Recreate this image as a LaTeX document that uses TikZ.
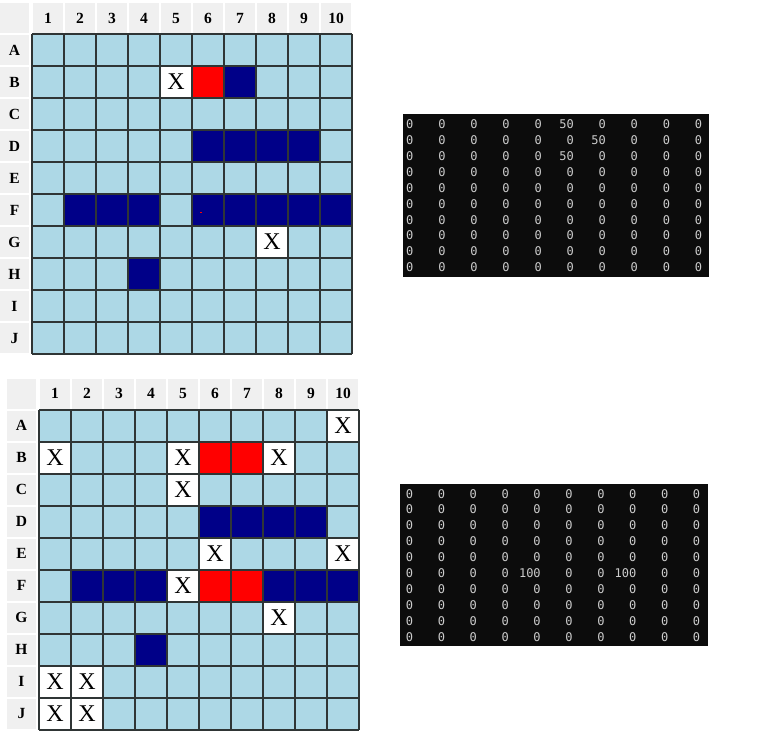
\documentclass[tikz,border=0pt]{standalone}
\usepackage{fontspec}
\setmainfont{Liberation Serif}
\newfontfamily\consfont{DejaVu Sans Mono}
\definecolor{cellblue}{HTML}{ADD8E6}
\definecolor{shipnavy}{HTML}{000088}
\definecolor{hitred}{HTML}{FF0000}
\definecolor{gridline}{HTML}{2F3535}
\definecolor{headgray}{HTML}{F0F0F0}
\definecolor{termbg}{HTML}{0C0C0C}
\definecolor{termtext}{HTML}{CCCCCC}
\newcommand\mycell[3]{\fill[#3] ({32*(#1-1)},{32*(#2-1)}) rectangle ({32*#1},{32*#2});}
\newcommand\myxcell[3]{\fill[white] ({32*(#1-1)},{32*(#2-1)}) rectangle ({32*#1},{32*#2});
  \node[xmark] (#3) at ({32*#1-16},{32*#2-16}) {X};}
\newcommand\myheaders[1]{%
  \fill[headgray] (-32,-31) rectangle (-3,-1);
  \foreach \k in {1,...,10} {
    \fill[headgray] ({32*(\k-1)+0.5},-31) rectangle ({32*(\k-1)+30.5},-1);
    \node[headtext] (#1-col-\k) at ({32*\k-16},-16) {\k};
  }
  \foreach \l [count=\i] in {A,B,C,D,E,F,G,H,I,J} {
    \fill[headgray] (-32,{32*(\i-1)+1}) rectangle (-3,{32*(\i-1)+31});
    \node[headtext] (#1-row-\l) at (-17.5,{32*\i-16}) {\l};
  }}
\newcommand\mylines{%
  \foreach \k in {0,...,10} {
    \draw[gridline,line width=2] ({32*\k},0) -- ({32*\k},320);
    \draw[gridline,line width=2] (0,{32*\k}) -- (320,{32*\k});
  }}
\begin{document}
\begin{tikzpicture}[x=1pt,y=-1pt,
  headtext/.style={font=\fontsize{15.5}{15.5}\selectfont\bfseries, inner sep=0pt},
  xmark/.style={font=\fontsize{24}{24}\selectfont, inner sep=0pt},
  termnum/.style={font=\consfont\fontsize{12}{12}\selectfont, text=termtext, inner sep=0pt, anchor=east},
]
\useasboundingbox (0,0) rectangle (770,747);
\fill[white] (0,0) rectangle (770,747);

% ---------- top board ----------
\begin{scope}[shift={(32,34)}]
  \myheaders{ta}
  \fill[cellblue] (0,0) rectangle (320,320);
  \myxcell{5}{2}{ta-x1}
  \mycell{6}{2}{hitred}
  \mycell{7}{2}{shipnavy}
  \foreach \c in {6,7,8,9} {\mycell{\c}{4}{shipnavy}}
  \foreach \c in {2,3,4,6,7,8,9,10} {\mycell{\c}{6}{shipnavy}}
  \myxcell{8}{7}{ta-x2}
  \mycell{4}{8}{shipnavy}
  \fill[hitred] (168,177.5) rectangle (169.5,179);
  \mylines
\end{scope}

% ---------- bottom board ----------
\begin{scope}[shift={(39,409.5)}]
  \myheaders{tb}
  \fill[cellblue] (0,0) rectangle (320,320);
  \myxcell{10}{1}{tb-x1}
  \myxcell{1}{2}{tb-x2}
  \myxcell{5}{2}{tb-x3}
  \mycell{6}{2}{hitred}
  \mycell{7}{2}{hitred}
  \myxcell{8}{2}{tb-x4}
  \myxcell{5}{3}{tb-x5}
  \foreach \c in {6,7,8,9} {\mycell{\c}{4}{shipnavy}}
  \myxcell{6}{5}{tb-x6}
  \myxcell{10}{5}{tb-x7}
  \foreach \c in {2,3,4,8,9,10} {\mycell{\c}{6}{shipnavy}}
  \myxcell{5}{6}{tb-x8}
  \mycell{6}{6}{hitred}
  \mycell{7}{6}{hitred}
  \myxcell{8}{7}{tb-x9}
  \mycell{4}{8}{shipnavy}
  \myxcell{1}{9}{tb-x10}
  \myxcell{2}{9}{tb-x11}
  \myxcell{1}{10}{tb-x12}
  \myxcell{2}{10}{tb-x13}
  \mylines
\end{scope}

% ---------- top terminal ----------
\fill[termbg] (403,114) rectangle (709,277);
\foreach \rowvals [count=\r] in {
  {0,0,0,0,0,50,0,0,0,0},
  {0,0,0,0,0,0,50,0,0,0},
  {0,0,0,0,0,50,0,0,0,0},
  {0,0,0,0,0,0,0,0,0,0},
  {0,0,0,0,0,0,0,0,0,0},
  {0,0,0,0,0,0,0,0,0,0},
  {0,0,0,0,0,0,0,0,0,0},
  {0,0,0,0,0,0,0,0,0,0},
  {0,0,0,0,0,0,0,0,0,0},
  {0,0,0,0,0,0,0,0,0,0}} {
  \foreach \v [count=\c] in \rowvals {
    \node[termnum] (ma-\r-\c) at ({413.6+32.08*(\c-1)},{124.3+15.9*(\r-1)}) {\v};
  }
}

% ---------- bottom terminal ----------
\fill[termbg] (400,484) rectangle (708,646);
\foreach \rowvals [count=\r] in {
  {0,0,0,0,0,0,0,0,0,0},
  {0,0,0,0,0,0,0,0,0,0},
  {0,0,0,0,0,0,0,0,0,0},
  {0,0,0,0,0,0,0,0,0,0},
  {0,0,0,0,0,0,0,0,0,0},
  {0,0,0,0,100,0,0,100,0,0},
  {0,0,0,0,0,0,0,0,0,0},
  {0,0,0,0,0,0,0,0,0,0},
  {0,0,0,0,0,0,0,0,0,0},
  {0,0,0,0,0,0,0,0,0,0}} {
  \foreach \v [count=\c] in \rowvals {
    \node[termnum] (mb-\r-\c) at ({413.3+31.9*(\c-1)},{493.7+15.9*(\r-1)}) {\v};
  }
}
\end{tikzpicture}
\end{document}
